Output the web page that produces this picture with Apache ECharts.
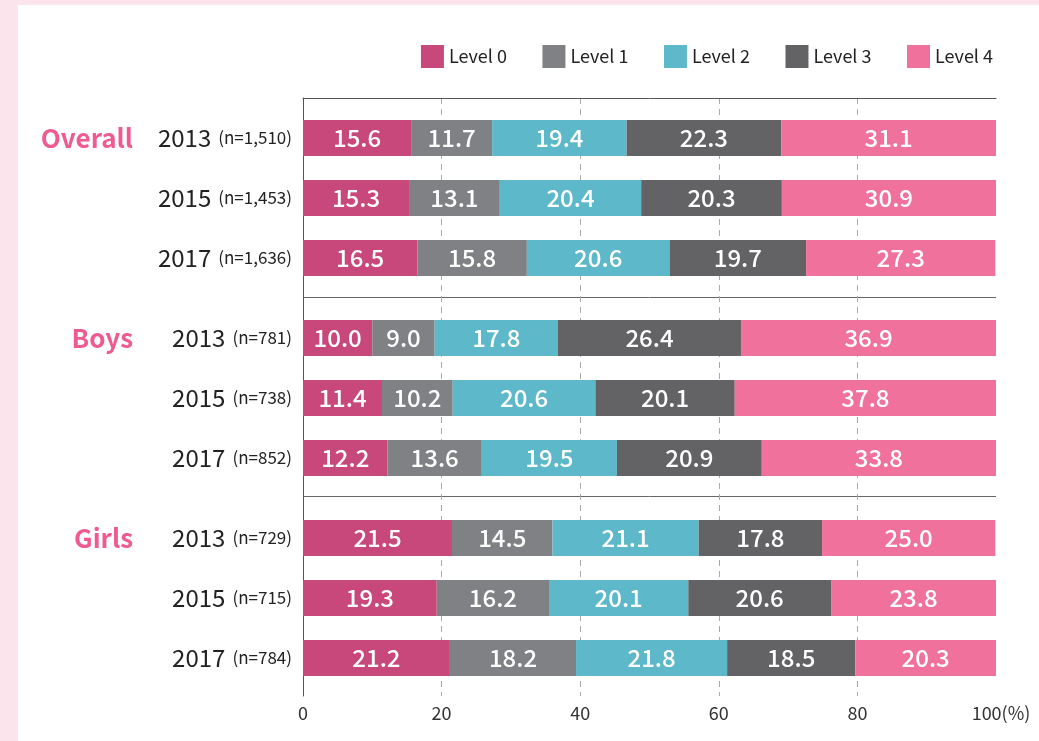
<!DOCTYPE html>
<html>
<head>
<meta charset="utf-8">
<script src="https://cdn.jsdelivr.net/npm/echarts@6/dist/echarts.min.js"></script>
<style>
html, body { margin: 0; padding: 0; }
#chart {
  width: 1039px;
  height: 741px;
  background:
    linear-gradient(#fce4ec, #fce4ec) 0 0 / 100% 5px no-repeat,
    linear-gradient(#fce4ec, #fce4ec) 0 0 / 18px 100% no-repeat,
    #fff;
}
</style>
</head>
<body>
<div id="chart"></div>
<script>
// data
const levels = ['Level 0', 'Level 1', 'Level 2', 'Level 3', 'Level 4'];
const rowGroups = ['Overall', '', '', 'Boys', '', '', 'Girls', '', ''];
const rowYears = ['2013', '2015', '2017', '2013', '2015', '2017', '2013', '2015', '2017'];
const rowSizes = ['1,510', '1,453', '1,636', '781', '738', '852', '729', '715', '784'];
const level0 = [15.6, 15.3, 16.5, 10.0, 11.4, 12.2, 21.5, 19.3, 21.2];
const level1 = [11.7, 13.1, 15.8, 9.0, 10.2, 13.6, 14.5, 16.2, 18.2];
const level2 = [19.4, 20.4, 20.6, 17.8, 20.6, 19.5, 21.1, 20.1, 21.8];
const level3 = [22.3, 20.3, 19.7, 26.4, 20.1, 20.9, 17.8, 20.6, 18.5];
const level4 = [31.1, 30.9, 27.3, 36.9, 37.8, 33.8, 25.0, 23.8, 20.3];
const xTicks = [0, 20, 40, 60, 80, 100];

const colors = ['#c8487b', '#808184', '#5db8c9', '#636365', '#f0719c'];
const font = 'Noto Sans CJK KR';

// rows sit in 20px slots, groups separated by an extra empty slot
const rowSlots = [1, 4, 7, 11, 14, 17, 21, 24, 27];
const slotCount = 29;

function toSlots(values, blank) {
  const out = new Array(slotCount).fill(blank);
  values.forEach((v, i) => { out[rowSlots[i]] = v; });
  return out;
}

const yearCats = toSlots(rowYears.map((y, i) => y + ' (n=' + rowSizes[i] + ')'), '');
const groupCats = toSlots(rowGroups, '');
const levelData = [level0, level1, level2, level3, level4];

const chart = echarts.init(document.getElementById('chart'));

chart.setOption({
  animation: false,
  textStyle: { fontFamily: font },
  legend: {
    data: levels,
    top: 45,
    right: 46,
    padding: 0,
    icon: 'rect',
    itemWidth: 23,
    itemHeight: 23,
    itemGap: 35.5,
    textStyle: { fontSize: 18, color: '#222', fontFamily: font }
  },
  grid: [
    { left: 303, right: 43, top: 98, bottom: 45, outerBoundsMode: 'none' },
    { left: 303, right: 43, top: 108, bottom: 53, outerBoundsMode: 'none' }
  ],
  xAxis: [
    {
      gridIndex: 0,
      type: 'value',
      min: 0,
      max: 100,
      interval: 20,
      axisLine: { show: true, lineStyle: { color: '#555', width: 1 } },
      axisTick: { show: false },
      axisLabel: {
        margin: 8,
        fontSize: 18,
        color: '#333',
        fontFamily: font,
        formatter: v => v === xTicks[xTicks.length - 1] ? '{p|' + v + '(%)}' : String(v),
        rich: { p: { fontSize: 18, color: '#333', fontFamily: font, padding: [0, 0, 0, 10] } }
      },
      splitLine: {
        show: true,
        showMinLine: false,
        showMaxLine: false,
        lineStyle: { color: '#aaa', width: 1, type: [6, 5] }
      }
    },
    {
      gridIndex: 1,
      type: 'value',
      min: 0,
      max: 100,
      show: false
    }
  ],
  yAxis: [
    {
      gridIndex: 0,
      type: 'value',
      min: 0,
      max: 3,
      interval: 1,
      inverse: true,
      axisLine: { show: true, lineStyle: { color: '#555', width: 1 } },
      axisTick: { show: false },
      axisLabel: { show: false },
      splitLine: {
        show: true,
        showMinLine: false,
        showMaxLine: false,
        lineStyle: { color: '#666', width: 1 }
      }
    },
    {
      gridIndex: 1,
      type: 'category',
      position: 'left',
      data: yearCats,
      inverse: true,
      axisLine: { show: false },
      axisTick: { show: false },
      axisLabel: {
        interval: 0,
        margin: 11,
        formatter: v => {
          if (!v) return '';
          const parts = v.split(' ');
          return '{y|' + parts[0] + '}{n|' + parts[1] + '}';
        },
        rich: {
          y: { fontSize: 24, color: '#222', fontFamily: font, padding: [0, 7, 0, 0] },
          n: { fontSize: 17, color: '#222', fontFamily: font }
        }
      }
    },
    {
      gridIndex: 1,
      type: 'category',
      position: 'left',
      offset: 0,
      data: groupCats,
      inverse: true,
      axisLine: { show: false },
      axisTick: { show: false },
      axisLabel: {
        interval: 0,
        margin: 170,
        fontSize: 26,
        fontWeight: 'bold',
        color: '#ef5b91',
        fontFamily: font
      }
    }
  ],
  series: levels.map((name, k) => ({
    name: name,
    type: 'bar',
    stack: 'total',
    xAxisIndex: 1,
    yAxisIndex: 1,
    barWidth: 36,
    itemStyle: { color: colors[k] },
    label: {
      show: true,
      position: 'inside',
      color: '#fff',
      fontSize: 24,
      fontWeight: 500,
      fontFamily: font,
      formatter: p => (p.value == null ? '' : Number(p.value).toFixed(1))
    },
    data: toSlots(levelData[k], null)
  }))
});
</script>
</body>
</html>
